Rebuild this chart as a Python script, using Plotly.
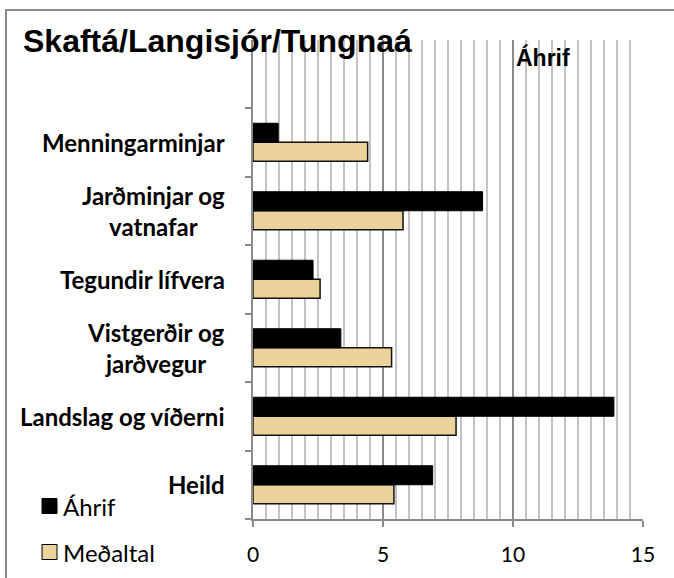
import plotly.graph_objects as go

categories = ["Heild", "Landslag og víðerni", "Vistgerðir og<br>jarðvegur",
              "Tegundir lífvera", "Jarðminjar og<br>vatnafar", "Menningarminjar"]
ahrif = [6.91, 13.88, 3.38, 2.31, 8.83, 0.97]
medaltal = [5.42, 7.81, 5.33, 2.58, 5.77, 4.41]
x_ticks = [0, 5, 10, 15]

W, H = 674, 578
L, R, T, B = 253, 31, 40, 59
PW, PH = W - L - R, H - T - B
CAT_PX = 68.5


def px(x):
    return (x - L) / PW


def py(y):
    return (H - B - y) / PH


ypos = list(range(len(categories)))

fig = go.Figure()
fig.add_trace(go.Bar(name="Meðaltal", y=ypos, x=medaltal, orientation="h",
                     marker=dict(color="#ECD39C", line=dict(color="#111111", width=1.5)),
                     showlegend=False))
fig.add_trace(go.Bar(name="Áhrif", y=ypos, x=ahrif, orientation="h",
                     marker=dict(color="#000000", line=dict(color="#000000", width=1)),
                     showlegend=False))

fig.update_layout(
    width=W, height=H,
    margin=dict(l=L, r=R, t=T, b=B),
    paper_bgcolor="white", plot_bgcolor="white",
    barmode="group", bargap=0.445, bargroupgap=0,
    showlegend=False,
    font=dict(family="Lato", color="#000000"),
)

fig.update_xaxes(
    range=[0, 15], tickvals=x_ticks, ticktext=[str(v) for v in x_ticks],
    showgrid=True, gridcolor="#8a8a8a", gridwidth=1.5,
    minor=dict(dtick=0.5, showgrid=True, gridcolor="#c4c4c4", gridwidth=1.5),
    showline=True, linecolor="#8a8a8a", linewidth=1.5,
    ticks="outside", ticklen=6, tickcolor="#8a8a8a", tickwidth=1.5,
    ticklabelstandoff=10,
    tickfont=dict(family="Lato", size=21, color="#000000"),
    zeroline=False,
)
fig.update_yaxes(
    range=[-0.5, -0.5 + PH / CAT_PX],
    tickvals=[i - 0.5 for i in range(len(categories) + 1)],
    showticklabels=False, showgrid=False, zeroline=False,
    showline=True, linecolor="#8a8a8a", linewidth=1.5,
    ticks="outside", ticklen=6, tickcolor="#8a8a8a", tickwidth=1.5,
)

annotations = []
for i, c in enumerate(categories):
    annotations.append(dict(
        x=px(227), y=i, xref="paper", yref="y", text="<b>%s</b>" % c,
        showarrow=False, xanchor="right", yanchor="middle", align="center",
        font=dict(family="Lato", size=24, color="#000000")))

annotations.append(dict(
    x=px(21), y=py(41), xref="paper", yref="paper",
    text="<b>Skaftá/Langisjór/Tungnaá</b>", showarrow=False,
    xanchor="left", yanchor="middle",
    font=dict(family="Liberation Sans", size=32, color="#000000")))
annotations.append(dict(
    x=px(543), y=py(57), xref="paper", yref="paper",
    text="<b>Áhrif</b>", showarrow=False, xanchor="center", yanchor="middle",
    font=dict(family="Liberation Sans", size=23, color="#000000")))

# legend
legend_items = [("Áhrif", "#000000", 506), ("Meðaltal", "#ECD39C", 552)]
shapes = []
for name, col, yc in legend_items:
    shapes.append(dict(type="rect", xref="paper", yref="paper",
                       x0=px(42), x1=px(57), y0=py(yc - 7.5), y1=py(yc + 7.5),
                       fillcolor=col, line=dict(color="#000000", width=1)))
    annotations.append(dict(
        x=px(61), y=py(yc), xref="paper", yref="paper", text=name,
        showarrow=False, xanchor="left", yanchor="middle",
        font=dict(family="Lato", size=24, color="#000000")))

# outer frame
shapes.append(dict(type="rect", xref="paper", yref="paper",
                   x0=px(6), x1=px(690), y0=py(600), y1=py(10),
                   line=dict(color="#8a8a8a", width=2), fillcolor="rgba(0,0,0,0)"))

fig.update_layout(annotations=annotations, shapes=shapes)
fig.write_html("out.html", config={"displayModeBar": False},
               post_script="document.body.style.margin='0px';")
